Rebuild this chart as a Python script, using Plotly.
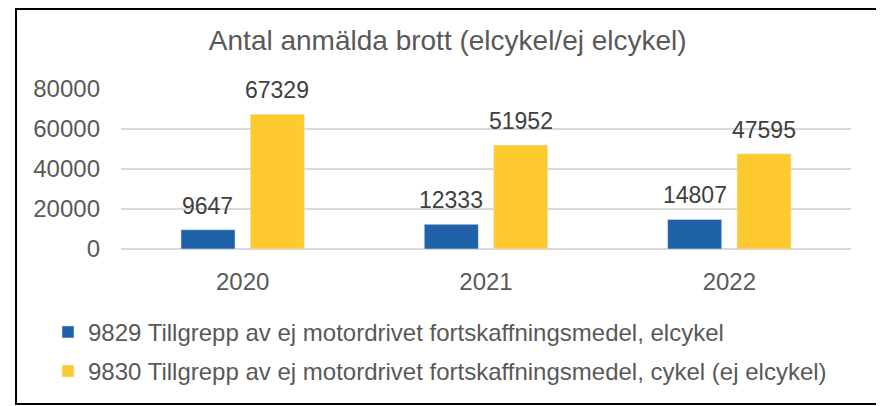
import plotly.graph_objects as go

years = ["2020", "2021", "2022"]
elcykel = [9647, 12333, 14807]
cykel = [67329, 51952, 47595]
series_names = [
    "9829 Tillgrepp av ej motordrivet fortskaffningsmedel, elcykel",
    "9830 Tillgrepp av ej motordrivet fortskaffningsmedel, cykel (ej elcykel)",
]
y_ticks = [0, 20000, 40000, 60000, 80000]

GREY = "#595959"
FONT = "Liberation Sans, Arial, sans-serif"
BAR_SHIFT = 34.7  # px offset of each bar from its category centre

fig = go.Figure()
fig.add_trace(go.Bar(x=years, y=elcykel, name=series_names[0], legendgroup="a",
                     marker=dict(color="#1F62A8")))
fig.add_trace(go.Bar(x=years, y=cykel, name=series_names[1], legendgroup="b",
                     marker=dict(color="#FFCA30")))

# data labels, sitting well above the bars like in Excel
# (category axis: annotation x is the category index)
labels = []
for vals, shift in ((elcykel, -BAR_SHIFT), (cykel, BAR_SHIFT)):
    for i, v in enumerate(vals):
        labels.append(dict(
            x=i, y=v, text=str(v), showarrow=False, xshift=shift,
            yanchor="bottom", yshift=9,
            font=dict(size=23, color="#404040"),
        ))

# the page body has an 8px margin, so the figure is laid out 8px up/left of the target
# plot area (figure px): x 113..843, y 81..241
fig.update_layout(
    width=876, height=398,
    margin=dict(l=113, r=33, t=81, b=157),
    paper_bgcolor="white", plot_bgcolor="white",
    font=dict(family=FONT, color=GREY, size=23),
    barmode="group", bargap=0.43, bargroupgap=0.22,
    title=dict(
        text="Antal anmälda brott (elcykel/ej elcykel)",
        x=0.502, xref="container", xanchor="center",
        y=0.92, yref="container", yanchor="middle",
        font=dict(size=28, color=GREY),
    ),
    xaxis=dict(type="category", range=[-0.5, 2.5], showgrid=False, showline=False,
               ticks="", ticklabelstandoff=16, tickfont=dict(size=24, color=GREY)),
    yaxis=dict(range=[0, 80000], tickvals=y_ticks, ticktext=[str(v) for v in y_ticks],
               showgrid=True, gridcolor="#D9D9D9", gridwidth=1.5, zeroline=True,
               zerolinecolor="#D9D9D9", zerolinewidth=1.5, ticks="",
               ticklabelstandoff=20, tickfont=dict(size=24, color=GREY)),
    legend=dict(
        orientation="v", x=-0.1, xanchor="left", y=-0.38, yanchor="top",
        traceorder="grouped", tracegroupgap=5,
        font=dict(size=24, color=GREY), bgcolor="rgba(0,0,0,0)",
    ),
    annotations=labels,
    shapes=[dict(
        type="rect", xref="paper", yref="paper",
        x0=-0.1438, x1=1.037, y0=-0.969, y1=1.5,
        line=dict(color="black", width=2),
    )],
    showlegend=True,
)

fig.write_html("out.html")
